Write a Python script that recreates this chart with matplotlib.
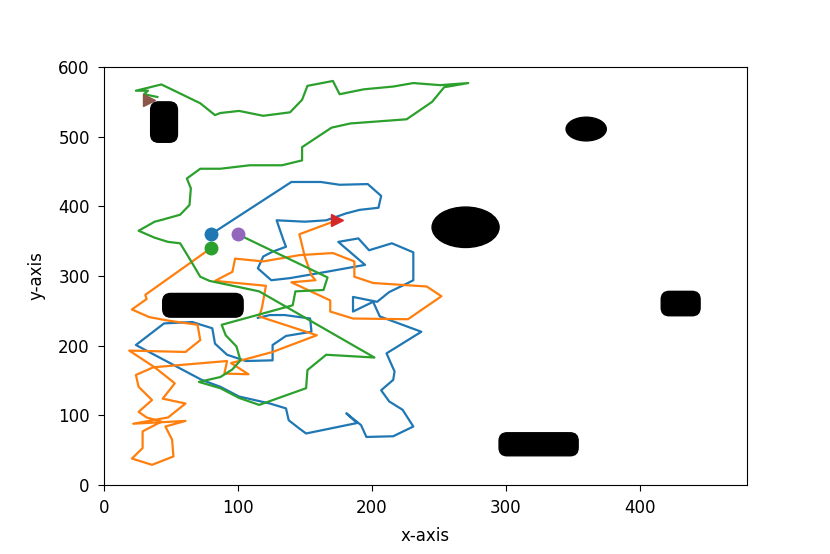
import matplotlib
matplotlib.use("Agg")
import matplotlib.pyplot as plt
from matplotlib.patches import Ellipse, FancyBboxPatch

# path 1 (blue)
blue_x = [80, 140, 162, 176, 197, 207, 205, 191, 181, 166, 150, 129, 134, 136, 126, 119,
          115, 125, 139, 166, 195, 175, 190, 198, 215, 231, 231, 227, 213, 204, 186, 186,
          201, 206, 237, 211, 217, 216, 207, 213, 223, 231, 216, 196, 192, 181, 189, 151,
          146, 138, 136, 124, 101, 87, 73, 24, 45, 66, 81, 83, 92, 106, 126, 126, 136,
          155, 154, 135, 124, 115]
blue_y = [360, 435, 435, 431, 432, 415, 398, 395, 390, 380, 378, 380, 352, 342, 335, 328,
          311, 294, 297, 306, 316, 349, 354, 337, 347, 334, 294, 290, 277, 263, 270, 249,
          263, 242, 220, 189, 163, 151, 136, 120, 108, 84, 70, 69, 86, 103, 89, 74,
          81, 93, 110, 117, 127, 141, 151, 201, 232, 234, 225, 203, 187, 178, 179, 201, 214,
          220, 239, 244, 244, 240]

# path 2 (orange)
orange_x = [80, 31, 32, 21, 34, 48, 70, 72, 61, 19, 38, 53, 44, 61, 48, 22, 61, 46, 51,
            52, 36, 21, 29, 29, 43, 32, 26, 36, 26, 24, 37, 92, 90, 108, 95, 126, 159, 116,
            118, 121, 83, 96, 98, 119, 146, 171, 187, 187, 201, 241, 252, 227, 186, 169,
            169, 140, 158, 155, 150, 146, 174]
orange_y = [340, 273, 267, 252, 241, 236, 230, 208, 191, 193, 169, 146, 124, 117, 97, 88,
            92, 84, 65, 41, 29, 38, 53, 77, 91, 97, 105, 122, 141, 158, 169, 178, 160, 159,
            175, 191, 215, 242, 254, 286, 293, 306, 325, 321, 330, 333, 321, 299, 290, 285,
            271, 238, 239, 249, 265, 291, 294, 301, 328, 360, 380]

# path 3 (green)
green_x = [100, 167, 164, 143, 141, 88, 91, 99, 102, 96, 87, 71, 87, 101, 116, 151, 152,
           166, 202, 116, 79, 72, 64, 57, 48, 38, 26, 38, 44, 57, 64, 65, 62, 72, 87, 109,
           133, 148, 148, 170, 184, 191, 226, 245, 254, 272, 251, 231, 216, 194, 176, 171,
           152, 148, 139, 119, 101, 87, 83, 72, 57, 43, 24, 33, 30, 40]
green_y = [360, 298, 280, 278, 258, 230, 215, 199, 179, 166, 155, 148, 139, 125, 115, 139,
           165, 187, 183, 278, 293, 299, 325, 347, 349, 355, 365, 378, 381, 388, 402, 426,
           440, 454, 454, 459, 459, 466, 485, 513, 519, 520, 525, 550, 571, 577, 574, 577,
           572, 568, 561, 580, 573, 553, 535, 530, 537, 534, 531, 548, 562, 575, 566, 566,
           561, 557]

# start / goal markers
start_x = [80, 80, 100]
start_y = [360, 340, 360]
start_c = ["C0", "C2", "C4"]
goal_x = [174, 34]
goal_y = [380, 552]
goal_c = ["C3", "C5"]

# obstacles: rounded boxes (x0, y0, w, h) and ellipses (cx, cy, w, h)
boxes = [(35, 492, 20, 58), (44, 241, 60, 34), (416, 243, 29, 35), (295, 42, 59, 33)]
ellipses = [(270, 370, 50, 58), (360, 511, 30, 34)]

fig = plt.figure(figsize=(8.3, 5.54), dpi=100)
ax = fig.add_axes([0.125, 0.1245, 0.775, 0.7545])

ax.plot(blue_x, blue_y, color="C0", lw=1.6)
ax.plot(orange_x, orange_y, color="C1", lw=1.6)
ax.plot(green_x, green_y, color="C2", lw=1.6)

for x, y, c in zip(start_x, start_y, start_c):
    ax.plot(x, y, "o", color=c, ms=9)
for x, y, c in zip(goal_x, goal_y, goal_c):
    ax.plot(x, y, ">", color=c, ms=9)

# keep corners round in screen space despite unequal scales
asp = (600 / 0.7545 / 5.54) / (480 / 0.775 / 8.3)
for x0, y0, w, h in boxes:
    ax.add_patch(FancyBboxPatch((x0, y0), w, h, boxstyle="round,pad=0,rounding_size=6",
                                mutation_aspect=asp, color="black", zorder=3))
for cx, cy, w, h in ellipses:
    ax.add_patch(Ellipse((cx, cy), w, h, color="black", zorder=3))

ax.set_xlim(0, 480)
ax.set_ylim(0, 600)
ax.set_xlabel("x-axis", fontsize=12, labelpad=7)
ax.set_ylabel("y-axis", fontsize=12, labelpad=9)
ax.tick_params(labelsize=12, length=4.5, pad=5.5)

fig.savefig("out.png", dpi=100)
